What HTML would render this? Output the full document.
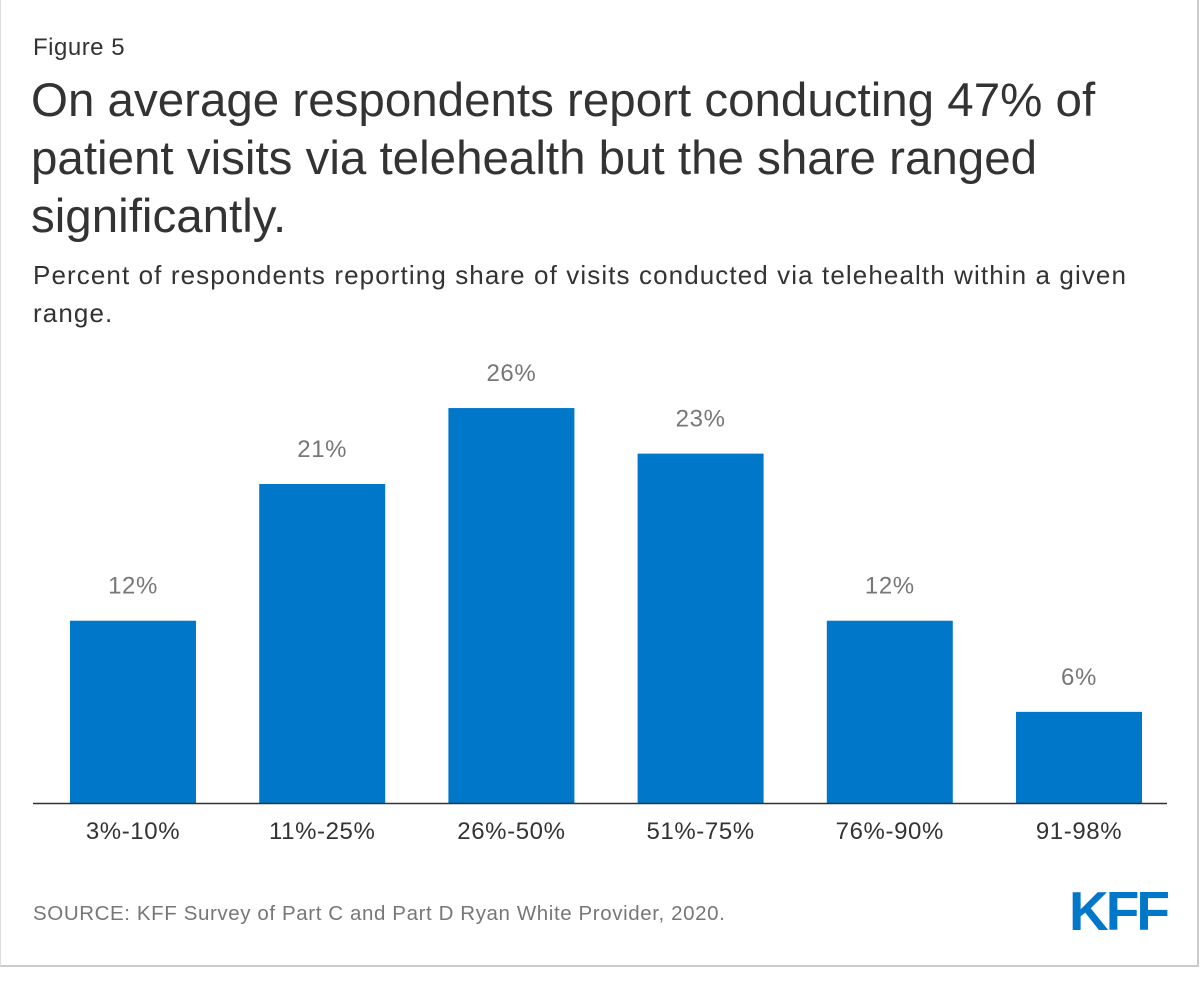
<!DOCTYPE html>
<html><head><meta charset="utf-8"><style>
body{margin:0;width:1200px;height:984px;background:#fff;font-family:"Liberation Sans",sans-serif;position:relative;overflow:hidden}
#frame{position:absolute;left:0;top:0;width:1196px;height:965px;border:2px solid #ccc;border-top:none;border-left:1px solid #ddd}
.t{position:absolute;color:#333;white-space:nowrap}
</style></head><body>
<div id="frame"></div>
<div class="t" style="left:33px;top:34px;font-size:24px;letter-spacing:0.5px">Figure 5</div>
<div class="t" style="left:31px;top:72px;font-size:47.5px;line-height:58px">On average respondents report conducting 47% of<br>patient visits via telehealth but the share ranged<br>significantly.</div>
<div class="t" style="left:33px;top:256px;font-size:26px;line-height:38px;letter-spacing:1.1px">Percent of respondents reporting share of visits conducted via telehealth within a given<br>range.</div>
<svg id="chart" width="1200" height="984" style="position:absolute;left:0;top:0"></svg>
<div class="t" style="left:33px;top:902px;font-size:20.5px;color:#777;letter-spacing:0.6px">SOURCE: KFF Survey of Part C and Part D Ryan White Provider, 2020.</div>
<div style="position:absolute;left:1069px;top:879px;font-size:55px;font-weight:bold;color:#0077c8;letter-spacing:-3px;font-family:'Liberation Sans',sans-serif">KFF</div>
<script>
const categories=["3%-10%","11%-25%","26%-50%","51%-75%","76%-90%","91-98%"];
const values=[12,21,26,23,12,6];
const labels=["12%","21%","26%","23%","12%","6%"];
const svg=document.getElementById('chart');
const NS="http://www.w3.org/2000/svg";
const base=803,scale=15.19,x0=70,step=189.2,bw=126;
const y=v=>base-v*scale;
const xp=i=>x0+i*step;
function mk(t,a){const e=document.createElementNS(NS,t);for(const k in a)e.setAttribute(k,a[k]);svg.appendChild(e);return e;}
categories.forEach((c,i)=>{
 const r=mk('rect',{x:xp(i),y:y(values[i]),width:bw,height:base-y(values[i]),fill:'#0077c8'});
 
 
 const v=mk('text',{x:xp(i)+bw/2,y:y(values[i])-27,'text-anchor':'middle','font-size':24,'letter-spacing':0.6,fill:'#777','font-family':'Liberation Sans'});
 v.textContent=labels[i];
 
 
 const t=mk('text',{x:xp(i)+bw/2,y:base+36,'text-anchor':'middle','font-size':24,'letter-spacing':0.6,fill:'#333','font-family':'Liberation Sans'});
 t.textContent=c;
 
 
});
const ax=mk('line',{x1:33,x2:1167,y1:base+0.5,y2:base+0.5,stroke:'#333','stroke-width':1.5});


</script>
</body></html>
